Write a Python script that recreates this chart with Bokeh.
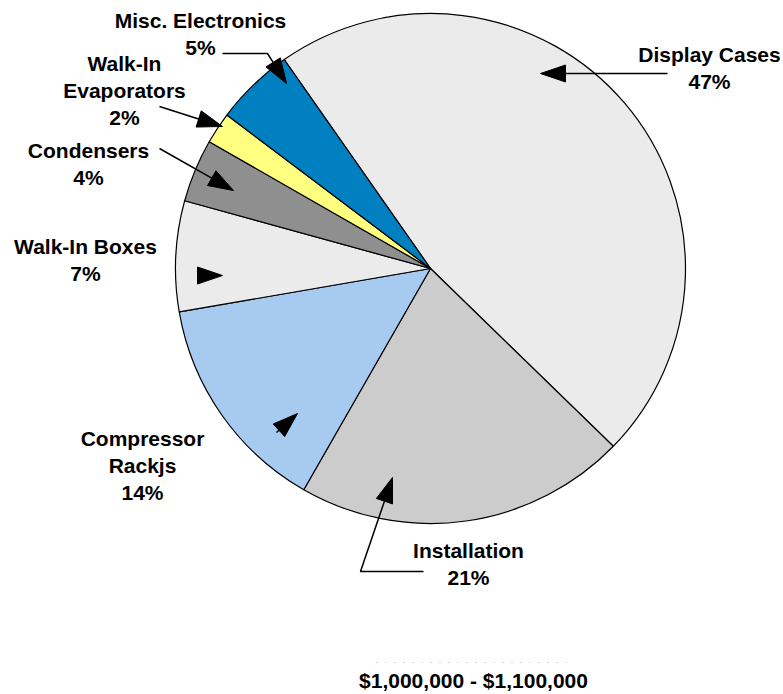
import math
from bokeh.plotting import figure
from bokeh.models import Range1d, ColumnDataSource
from bokeh.embed import file_html
from bokeh.resources import INLINE
from bokeh.core.properties import value

# ---- data ----
categories = ["Display Cases", "Installation", "Compressor Rackjs", "Walk-In Boxes",
              "Condensers", "Walk-In Evaporators", "Misc. Electronics"]
shares = [47, 21, 14, 7, 4, 2, 5]
label_names = [["Display Cases"], ["Installation"], ["Compressor", "Rackjs"], ["Walk-In Boxes"],
               ["Condensers"], ["Walk-In", "Evaporators"], ["Misc. Electronics"]]
colors = ["#EBEBEB", "#CCCCCC", "#A6CAF0", "#EBEBEB", "#8F8F8F", "#FFFF80", "#0080C0"]
title_text = "$1,000,000 - $1,100,000"

# ---- layout (pixel coordinates, y downwards) ----
W, H = 783, 694
CX, CY, R = 430, 268, 255
START_CLOCK_DEG = -35  # where first slice starts, clockwise from 12 o'clock

label_pos = [(709, 54), (468, 550), (142, 438), (85, 246), (88, 150), (124, 63), (200, 20)]
line_step = 27
leaders = [
    [(667, 73), (540, 73)],
    [(423, 571), (360, 571), (392, 477)],
    [(276, 432), (297, 413)],
    [(197, 275), (222, 275)],
    [(159, 148), (233, 190)],
    [(159, 106), (222, 126)],
    [(222, 53), (267, 53), (286, 83)],
]
title_pos = (473, 680)


def Y(y):
    return H - y


p = figure(width=W, height=H, x_range=Range1d(0, W), y_range=Range1d(0, H),
           output_backend="svg", toolbar_location=None, min_border=0,
           x_axis_type=None, y_axis_type=None)
p.grid.visible = False
p.outline_line_color = None
p.background_fill_color = "white"
p.border_fill_color = "white"

# wedges
starts, ends = [], []
cum = START_CLOCK_DEG
total = sum(shares)
for s in shares:
    a0 = 90 - cum
    cum += s / total * 360
    a1 = 90 - cum
    starts.append(math.radians(a1))
    ends.append(math.radians(a0))
src = ColumnDataSource(dict(start=starts, end=ends, color=colors, cat=categories))
p.wedge(x=CX, y=Y(CY), radius=R, start_angle="start", end_angle="end",
        fill_color="color", line_color="black", line_width=1.2, source=src)

# labels
tx, ty, tt = [], [], []
for names, s, (lx, ly) in zip(label_names, shares, label_pos):
    lines = names + [f"{s}%"]
    for k, ln in enumerate(lines):
        tx.append(lx)
        ty.append(Y(ly + k * line_step))
        tt.append(ln)
p.text(x=tx, y=ty, text=tt, text_font=value("Liberation Sans"), text_font_style="bold",
       text_font_size="21px", text_align="center", text_baseline="middle", text_color="black")

# leader lines with arrow heads
HEAD_L, HEAD_W = 25, 8.5
for path in leaders:
    xs = [pt[0] for pt in path]
    ys = [Y(pt[1]) for pt in path]
    (bx, by), (tx_, ty_) = path[-2], path[-1]
    dx, dy = tx_ - bx, ty_ - by
    d = math.hypot(dx, dy)
    ux, uy = dx / d, dy / d
    baseX, baseY = tx_ - ux * HEAD_L, ty_ - uy * HEAD_L
    if d > HEAD_L + 3:
        p.line(xs[:-1] + [baseX], ys[:-1] + [Y(baseY)], line_color="black", line_width=1.5)
    px, py = -uy, ux
    hx = [tx_, baseX + px * HEAD_W, baseX - px * HEAD_W]
    hy = [Y(ty_), Y(baseY + py * HEAD_W), Y(baseY - py * HEAD_W)]
    p.patch(hx, hy, fill_color="black", line_color="black", line_width=1)

# faint dotted row above the title
p.line([376, 566], [Y(662), Y(662)], line_color="#aaaaaa", line_width=1, line_dash="1 8")

# bottom title
p.text(x=[title_pos[0]], y=[Y(title_pos[1])], text=[title_text], text_font=value("Liberation Sans"),
       text_font_style="bold", text_font_size="21px", text_align="center", text_baseline="middle",
       text_color="black")

open("out.html", "w").write(file_html(p, INLINE))
